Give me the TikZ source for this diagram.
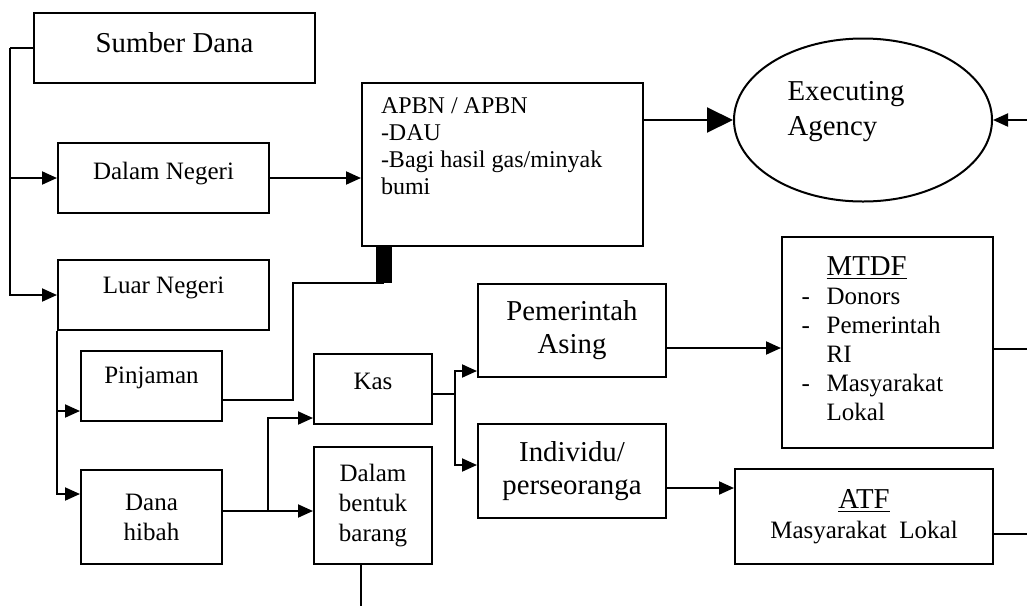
\documentclass[tikz,border=0pt]{standalone}
\usepackage{fontspec}
\setmainfont{Liberation Serif}
\usetikzlibrary{arrows.meta,shapes.geometric,calc}
\newcommand\fbig{\fontsize{14.4}{16.5}\selectfont}
\newcommand\fsml{\fontsize{12.5}{15}\selectfont}
\newcommand\fapbn{\fontsize{12}{13.5}\selectfont}
\tikzset{
  box/.style={draw, line width=1pt, anchor=north west, inner sep=2pt, align=center, font=\fsml},
  line/.style={line width=1pt},
  arr/.style={line width=1pt, -{Triangle[length=7.5pt,width=6.5pt]}},
  bigarr/.style={line width=1pt, -{Triangle[length=13pt,width=12.5pt]}},
}
\begin{document}
\begin{tikzpicture}[x=0.5pt,y=-0.5pt]
    \useasboundingbox (0,0) rectangle (1027,606);
    % Sumber dana
    \node[box, font=\fbig, minimum width=140.5pt, minimum height=35pt, text depth=5pt] (sd) at (33,12) {Sumber Dana};
    \node[box, minimum width=105.5pt, minimum height=35pt, text depth=7.5pt] (dn) at (57,142) {Dalam Negeri};
    \node[box, minimum width=105.5pt, minimum height=35pt, text depth=9.5pt] (ln) at (57,259) {Luar Negeri};
    % APBN
    \node[box, font=\fapbn, inner xsep=9.5pt, inner ysep=2pt] (apbn) at (361,82)
      {\parbox[c][77.5pt][t]{121.5pt}{\raggedright\vspace*{5.5pt}APBN / APBN\\-DAU\\-Bagi hasil gas/minyak\\bumi}};
    % Executing agency
    \node[draw, line width=1pt, ellipse, minimum width=129pt, minimum height=81.5pt, inner sep=0pt] (ea) at (863,120) {};
    \node[align=left, font=\fbig] (eatxt) at (846,112) {Executing\\[1pt]Agency};
    % Luar negeri
    \node[box, minimum width=70.5pt, minimum height=35pt, text depth=10.5pt] (pj) at (80,350) {Pinjaman};
    \node[box, minimum width=70.5pt, minimum height=47pt] (dh) at (80,469) {Dana\\hibah};
    \node[box, minimum width=59pt, minimum height=35pt, text depth=8pt] (ks) at (313,353) {Kas};
    \node[box, minimum width=59pt, minimum height=58.5pt] (db) at (313,446) {Dalam\\bentuk\\barang};
    \node[box, font=\fbig, minimum width=94pt, minimum height=46.5pt] (pa) at (477,283) {Pemerintah\\Asing};
    \node[box, font=\fbig, minimum width=94pt, minimum height=47pt] (in) at (477,423) {Individu/\\perseoranga};
    % Trust funds
    \node[box, font=\fontsize{12.5}{14.5}\selectfont, minimum width=105.5pt, minimum height=105.5pt] (mtdf) at (781,236) {%
      \begin{tabular}{@{}l@{\hspace{8.3pt}}l@{\hspace{15pt}}}
        & {\fbig\underline{MTDF}}\\
        - & Donors\\
        - & Pemerintah\\
          & RI\\
        - & Masyarakat\\
          & Lokal
      \end{tabular}};
    \node[box, minimum width=129pt, minimum height=47.5pt] (atf) at (734,468) {{\fbig\underline{ATF}}\\Masyarakat~~Lokal};

    % left trunk
    \coordinate (trunk) at (10,0);
    \draw[line] (sd.west) -- (sd.west -| trunk);
    \draw[arr] (sd.west -| trunk) |- (ln.west);
    \draw[arr] (dn.west -| trunk) -- (dn.west);
    \draw[arr] (dn.east) -- (dn.east -| apbn.west);
    \draw[bigarr] (ea.west -| apbn.east) -- (ea.west);
    \coordinate (rin) at (1027,0);
    \draw[arr] (ea.east -| rin) -- (ea.east);
    % luar negeri
    \draw[arr] (ln.south west) |- ($(pj.west)+(0,25)$);
    \draw[arr] (ln.south west) |- ($(dh.west)+(0,-23)$);
    % pinjaman to APBN
    \coordinate (bar) at (384,283);
    \draw[line] ($(pj.east)+(0,14)$) -- ++(70,0) |- (bar);
    \draw[line width=8pt] (bar) -- (bar |- apbn.south);
    % dana hibah
    \path (dh.east) ++(0,-6) coordinate (dhe) ++(45,0) coordinate (dhj);
    \draw[line] (dhe) -- (dhj);
    \draw[arr] (dhj) |- ($(ks.west)+(0,29)$);
    \draw[arr] (dhj) -- (dhj -| db.west);
    \coordinate (dbout) at (361,606);
    \draw[line] (dbout |- db.south) -- (dbout);
    % kas
    \path (ks.east) ++(0,5) coordinate (kse) ++(22,0) coordinate (ksj);
    \draw[line] (kse) -- (ksj);
    \draw[arr] (ksj) |- ($(pa.west)+(0,40.5)$);
    \draw[arr] (ksj) |- ($(in.west)+(0,-6)$);
    % to trust funds
    \coordinate (pao) at ($(pa.east)+(0,17.5)$);
    \draw[arr] (pao) -- (pao -| mtdf.west);
    \coordinate (ino) at ($(in.east)+(0,17)$);
    \draw[arr] (ino) -- (ino -| atf.west);
    \coordinate (mout) at (1027,349);
    \draw[line] (mout -| mtdf.east) -- (mout);
    \coordinate (aout) at (1027,534);
    \draw[line] (aout -| atf.east) -- (aout);
\end{tikzpicture}
\end{document}
